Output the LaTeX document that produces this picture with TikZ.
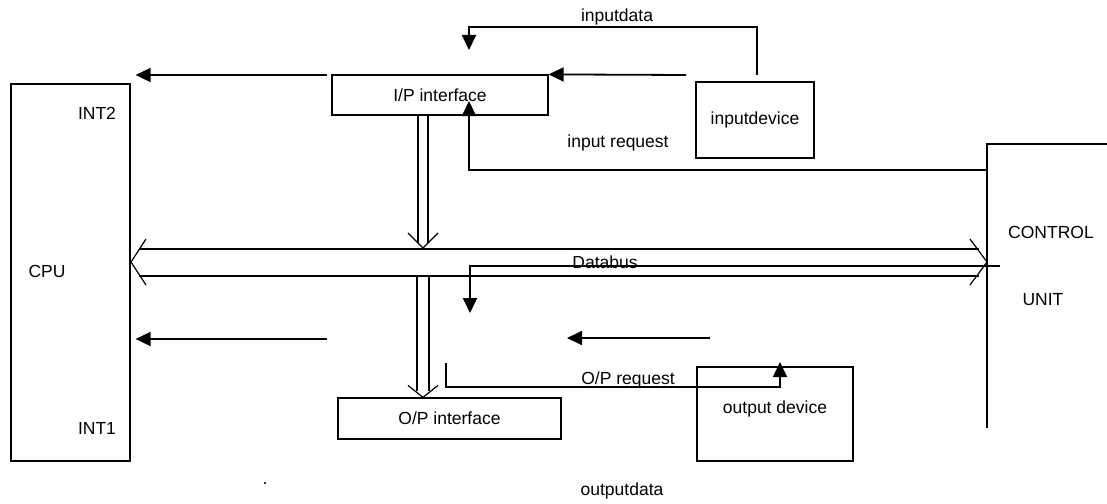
\documentclass[tikz,border=0pt]{standalone}
\usepackage{fontspec}
\setmainfont{Liberation Sans}
\usetikzlibrary{arrows.meta}
\begin{document}
\begin{tikzpicture}[x=1pt, y=-1pt,
        every node/.style={font=\fontsize{17.5}{20}\selectfont},
        box/.style={draw, line width=1.2pt, inner sep=0pt},
        arr/.style={line width=1.8pt, -{Triangle[length=15pt,width=14pt]}},
        bus/.style={line width=1.2pt, line join=miter}]
        \useasboundingbox (0,0) rectangle (1107,503);
        % Draw the blocks
        \node[box, minimum width=119pt, minimum height=377pt] (cpu) at (70.5,272.5) {};
        \node[box, minimum width=216pt, minimum height=40pt] (ipi) at (440,95) {I/P interface};
        \node[box, minimum width=118pt, minimum height=76pt] (ind) at (755,120) {inputdevice};
        \node[box, minimum width=223pt, minimum height=41pt] (opi) at (449.5,418.5) {O/P interface};
        \node[box, minimum width=156pt, minimum height=94pt, text depth=14pt] (opd) at (775,414) {output device};
        % control unit, open at the bottom
        \coordinate (cu) at (987,144);
        \draw[line width=1.2pt] (1107,144) -- (cu) -- (987,428);
        % labels in the blocks
        \node (int2) at (97,113) {INT2};
        \node (cpulbl) at (47,271) {CPU};
        \node (int1) at (97,428) {INT1};
        \node (ctrl) at (1051,232) {CONTROL};
        \node (unit) at (1043,300) {UNIT};
        % interrupt lines
        \coordinate (i2) at (327,75);
        \draw[arr, shorten >=5pt] (i2) -- (cpu.east |- i2);
        \coordinate (i2s) at (686,75);
        \draw[arr] (i2s) -- (ipi.north east);
        \coordinate (i1) at (327,339);
        \draw[arr, shorten >=5pt] (i1) -- (cpu.east |- i1);
        \coordinate (o1) at (710,338);
        \coordinate (o1tip) at (567,338);
        \draw[arr] (o1) -- (o1tip);
        % input data and input request
        \coordinate (indt) at (757,75);
        \coordinate (idtip) at (469,50);
        \draw[arr] (indt) -- ++(0,-48) -| (idtip);
        \node (idlbl) at (617,17) {inputdata};
        \coordinate (irq) at (987,170);
        \coordinate (irqtip) at (469,101);
        \draw[arr] (irq) -| (irqtip);
        \node (irqlbl) at (618,143) {input request};
        % the data bus
        \coordinate (busL) at (131,262);
        \coordinate (busR) at (987,262);
        \draw[bus] ([shift={(15,-23)}]busL) -- (busL) -- ([shift={(15,23)}]busL);
        \draw[bus] ([shift={(-17,-23)}]busR) -- (busR) -- ([shift={(-17,23)}]busR);
        \draw[bus] ([shift={(8,-13)}]busL) -- ([shift={(-8,-13)}]busR);
        \draw[bus] ([shift={(8,14)}]busL) -- ([shift={(-8,14)}]busR);
        \node (dblbl) at (605,262) {Databus};
        % I/P interface onto the bus
        \coordinate (upTip) at (423,248);
        \draw[bus] ([xshift=-5pt]ipi.south -| upTip) -- ([shift={(-5,-5)}]upTip);
        \draw[bus] ([xshift=5pt]ipi.south -| upTip) -- ([shift={(5,-5)}]upTip);
        \draw[bus] ([shift={(-15,-15)}]upTip) -- (upTip) -- ([shift={(15,-15)}]upTip);
        % bus onto O/P interface
        \coordinate (dnTip) at (opi.north -| upTip);
        \draw[bus] ([shift={(-6,14)}]busL -| dnTip) -- ([shift={(-6,-6)}]dnTip);
        \draw[bus] ([shift={(6,14)}]busL -| dnTip) -- ([shift={(6,-6)}]dnTip);
        \draw[bus] ([shift={(-15,-12)}]dnTip) -- (dnTip) -- ([shift={(15,-12)}]dnTip);
        % control unit to the output side
        \coordinate (tap) at (1000,266);
        \coordinate (taptip) at (470,313);
        \draw[arr] (tap) -| (taptip);
        \coordinate (oprs) at (446,363);
        \coordinate (oprtip) at (780,362);
        \draw[arr] (oprs) -- ++(0,24) -| (oprtip);
        \node (oprlbl) at (628,380) {O/P request};
        \node (odlbl) at (622,491) {outputdata};
        \node (dot) at (265,484) {.};
    \end{tikzpicture}
\end{document}
